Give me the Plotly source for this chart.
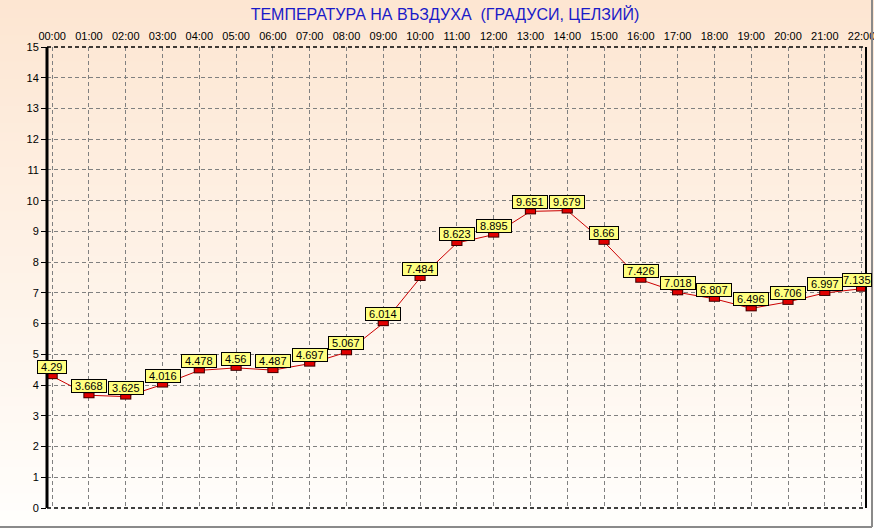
import plotly.graph_objects as go

hours = list(range(23))
hour_labels = [f"{h:02d}:00" for h in hours]
temps = [4.29, 3.668, 3.625, 4.016, 4.478, 4.56, 4.487, 4.697, 5.067, 6.014,
         7.484, 8.623, 8.895, 9.651, 9.679, 8.66, 7.426, 7.018, 6.807, 6.496,
         6.706, 6.997, 7.135]
y_ticks = list(range(16))
title_text = "ТЕМПЕРАТУРА НА ВЪЗДУХА \u00a0(ГРАДУСИ, ЦЕЛЗИЙ)"

W, H = 874, 529
L, R, T, B = 47, 8, 47, 21
pw, ph = W - L - R, H - T - B

fig = go.Figure()

# connecting line
fig.add_trace(go.Scatter(x=hours, y=temps, mode="lines",
                         line=dict(color="#CC0000", width=1), hoverinfo="skip"))
# marker border (dark) and fill (red) as flat rectangles
fig.add_trace(go.Scatter(x=hours, y=temps, mode="markers",
                         marker=dict(symbol="line-ew", size=8, color="#400000",
                                     line=dict(color="#400000", width=6)),
                         hoverinfo="skip"))
fig.add_trace(go.Scatter(x=hours, y=temps, mode="markers",
                         marker=dict(symbol="line-ew", size=6.5, color="#E00000",
                                     line=dict(color="#E00000", width=4)),
                         hoverinfo="skip"))

shapes = []
# background gradient
x0p, x1p = -L / pw, 1 + R / pw
y0p, y1p = -B / ph, 1 + T / ph
n = 60
top_c = (253, 230, 210)
bot_c = (255, 254, 252)
for i in range(n):
    f = i / (n - 1)
    c = tuple(round(bot_c[k] + (top_c[k] - bot_c[k]) * f) for k in range(3))
    ya = y0p + (y1p - y0p) * i / n
    yb = y0p + (y1p - y0p) * (i + 1) / n
    shapes.append(dict(type="rect", xref="paper", yref="paper", x0=x0p, x1=x1p,
                       y0=ya, y1=yb + 0.002, line=dict(width=0),
                       fillcolor=f"rgb{c}", layer="below"))
# frame: top and bottom dashed black, left thick solid, right solid
for yy in (0, 1):
    shapes.append(dict(type="line", xref="paper", yref="paper", x0=0, x1=1,
                       y0=yy, y1=yy, line=dict(color="black", width=1.5, dash="4px,3px")))
shapes.append(dict(type="line", xref="paper", yref="paper", x0=0, x1=0,
                   y0=0, y1=1, line=dict(color="black", width=3)))
shapes.append(dict(type="line", xref="paper", yref="paper", x0=1, x1=1,
                   y0=0, y1=1, line=dict(color="black", width=2)))
# outer image border (bottom, right)
by = -(B - 2) / ph
rx = 1 + (R - 2) / pw
shapes.append(dict(type="line", xref="paper", yref="paper", x0=x0p, x1=rx,
                   y0=by, y1=by, line=dict(color="#8A8A8A", width=2)))
shapes.append(dict(type="line", xref="paper", yref="paper", x0=rx, x1=rx,
                   y0=by, y1=y1p, line=dict(color="#8A8A8A", width=2)))

annotations = []
last = len(hours) - 1
for i, (h, v) in enumerate(zip(hours, temps)):
    pad = "" if i == last else " "
    annotations.append(dict(x=h, y=v, xref="x", yref="y", text=f"{pad}{v}{pad}",
                            showarrow=False, yanchor="bottom", yshift=2,
                            xshift=-5 if i == last else 0,
                            font=dict(family="Arial", size=11, color="black"),
                            bgcolor="#FFFF80", bordercolor="black", borderwidth=1,
                            borderpad=0))

fig.update_layout(
    width=W, height=H,
    margin=dict(l=L, r=R, t=T, b=B, pad=0),
    paper_bgcolor="rgba(0,0,0,0)", plot_bgcolor="rgba(0,0,0,0)",
    showlegend=False,
    title=dict(text=title_text, x=445 / W, xanchor="center", y=1 - 14 / H, yanchor="middle",
               font=dict(family="Arial", size=16, color="#1A1AC8")),
    shapes=shapes, annotations=annotations,
    font=dict(family="Arial", size=11, color="black"),
)
fig.update_xaxes(range=[-0.14, 22.12], side="top", tickmode="array",
                 tickvals=hours, ticktext=hour_labels, showgrid=True,
                 gridcolor="#808080", griddash="4px,3px", gridwidth=1,
                 zeroline=False, showline=False, ticks="", ticklabelstandoff=4,
                 automargin=False, ticklabeloverflow="allow",
                 tickfont=dict(family="Arial", size=11, color="black"), fixedrange=True)
fig.update_yaxes(range=[0, 15], tickmode="array", tickvals=y_ticks,
                 ticktext=[str(t) for t in y_ticks], showgrid=True,
                 gridcolor="#808080", griddash="4px,3px", gridwidth=1,
                 zeroline=False, showline=False, ticks="outside", ticklen=5,
                 tickcolor="black", tickwidth=1, automargin=False,
                 tickfont=dict(family="Arial", size=11, color="black"), fixedrange=True)

fig.write_html("out.html", config=dict(displayModeBar=False, staticPlot=True),
               post_script="document.body.style.margin='0';document.body.style.padding='0';"
                           "document.body.style.overflow='hidden';")
